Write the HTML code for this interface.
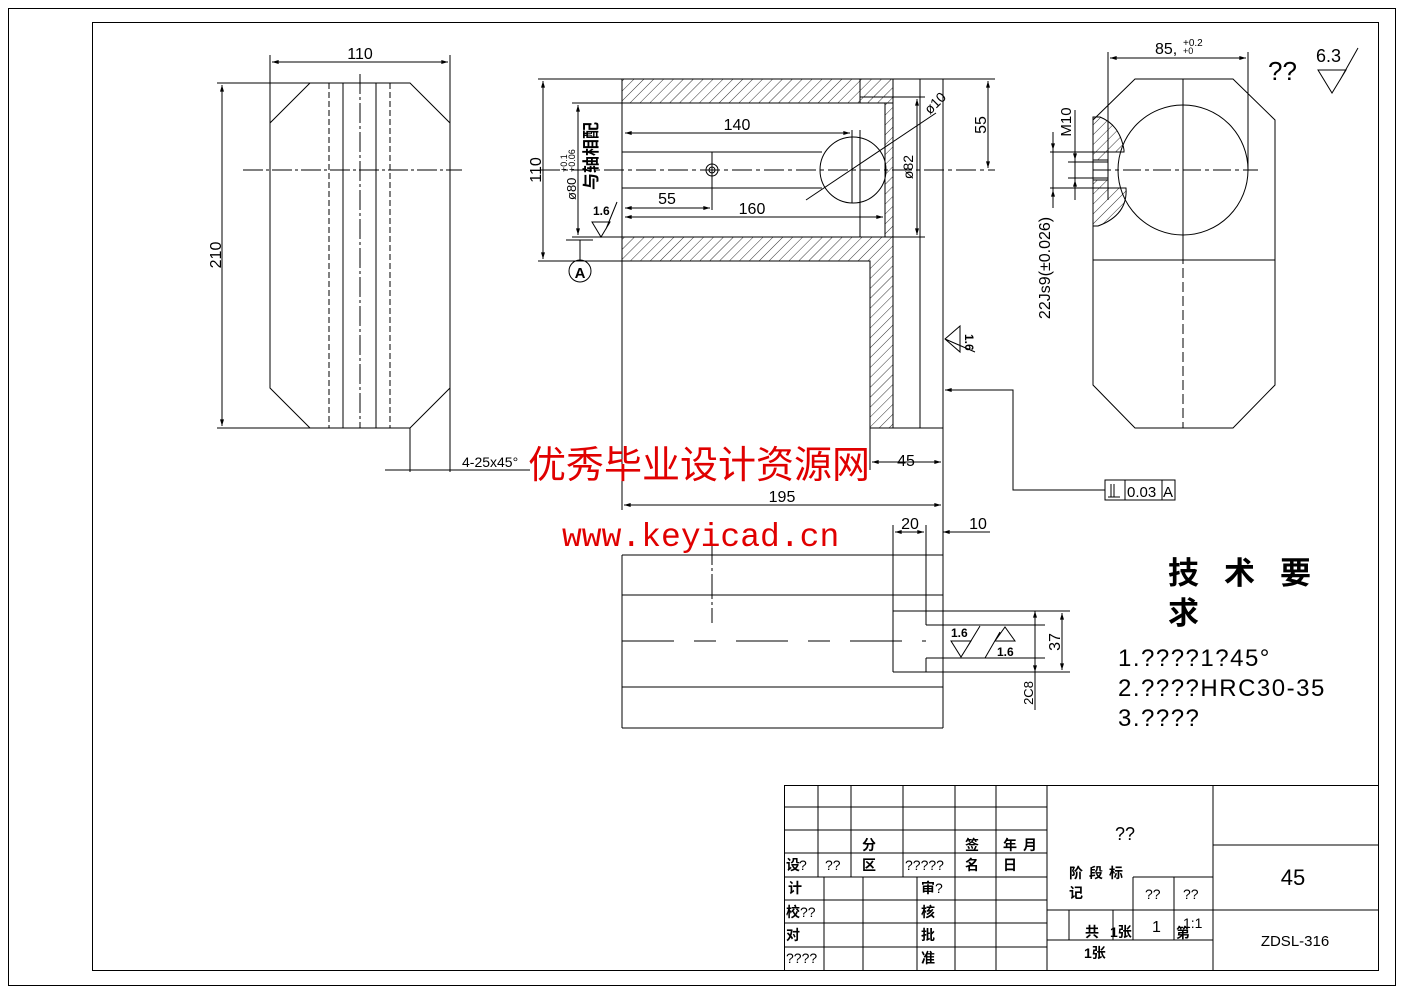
<!DOCTYPE html>
<html><head><meta charset="utf-8"><style>
html,body{margin:0;padding:0;background:#fff;}
svg{display:block;}
text{font-family:"Liberation Sans","Noto Sans CJK SC",sans-serif;fill:#000;}
.cn{font-family:"Liberation Sans","Noto Sans CJK SC",sans-serif;font-weight:bold;}
</style></head><body>
<svg width="1403" height="992" viewBox="0 0 1403 992" xmlns="http://www.w3.org/2000/svg">
<defs>
<pattern id="h" width="7" height="7" patternUnits="userSpaceOnUse" patternTransform="rotate(45)">
<line x1="0" y1="0" x2="0" y2="7" stroke="#000" stroke-width="0.8"/>
</pattern>
<marker id="a" viewBox="0 0 10 6" refX="10" refY="3" markerWidth="8" markerHeight="4" orient="auto-start-reverse"><path d="M0,0L10,3L0,6z" fill="#000"/></marker>
</defs>
<g fill="none" stroke="#000" stroke-width="1">
<rect x="8.5" y="8.5" width="1387" height="977"/>
<rect x="92.5" y="22.5" width="1286" height="948"/>

<!-- LEFT VIEW -->
<path d="M310,83 L410,83 L450,123 L450,388 L410,428 L310,428 L270,388 L270,123 Z"/>
<line x1="343" y1="83" x2="343" y2="428"/>
<line x1="376" y1="83" x2="376" y2="428"/>
<line x1="329" y1="83" x2="329" y2="428" stroke-dasharray="6,3"/>
<line x1="390" y1="83" x2="390" y2="428" stroke-dasharray="6,3"/>
<line x1="360" y1="74" x2="360" y2="428" stroke-dasharray="20,3,3,3"/>
<line x1="243" y1="170" x2="462" y2="170" stroke-dasharray="20,3,3,3"/>
<line x1="270" y1="55" x2="270" y2="123"/><line x1="450" y1="55" x2="450" y2="472"/>
<line x1="272" y1="62" x2="448" y2="62" marker-start="url(#a)" marker-end="url(#a)"/>
<line x1="217" y1="83" x2="310" y2="83"/><line x1="217" y1="428" x2="410" y2="428"/>
<line x1="222" y1="85" x2="222" y2="426" marker-start="url(#a)" marker-end="url(#a)"/>
<line x1="410" y1="428" x2="410" y2="472"/>
<line x1="385" y1="470" x2="530" y2="470"/>

<!-- MIDDLE TOP VIEW -->
<rect x="622" y="79" width="271" height="24" fill="url(#h)"/>
<path d="M622,237 L893,237 L893,428 L870,428 L870,261 L622,261 Z" fill="url(#h)"/>
<rect x="885" y="103" width="8" height="134" fill="url(#h)"/>
<line x1="538" y1="79" x2="995" y2="79"/>
<line x1="622" y1="79" x2="622" y2="510"/>
<line x1="622" y1="103" x2="860" y2="103"/>
<line x1="860" y1="79" x2="860" y2="103"/>
<line x1="860" y1="97" x2="893" y2="97"/>
<line x1="860" y1="130" x2="860" y2="237"/>
<line x1="893" y1="79" x2="893" y2="428"/>
<line x1="920" y1="79" x2="920" y2="428"/>
<line x1="943" y1="79" x2="943" y2="510"/>
<line x1="870" y1="428" x2="943" y2="428"/>
<line x1="870" y1="428" x2="870" y2="470"/>
<line x1="538" y1="261" x2="622" y2="261"/>
<line x1="572" y1="103" x2="622" y2="103"/><line x1="572" y1="237" x2="622" y2="237"/>
<line x1="622" y1="152" x2="822" y2="152"/>
<line x1="622" y1="188" x2="822" y2="188"/>
<line x1="540" y1="170" x2="995" y2="170" stroke-dasharray="20,4,4,4"/>
<circle cx="712" cy="170" r="6"/><circle cx="712" cy="170" r="3"/>
<line x1="712" y1="152" x2="712" y2="210"/>
<circle cx="853" cy="170" r="33"/>
<line x1="852" y1="130" x2="852" y2="203"/>
<line x1="543" y1="81" x2="543" y2="259" marker-start="url(#a)" marker-end="url(#a)"/>
<line x1="578" y1="105" x2="578" y2="235" marker-start="url(#a)" marker-end="url(#a)"/>
<line x1="625" y1="133" x2="850" y2="133" marker-start="url(#a)" marker-end="url(#a)"/>
<line x1="625" y1="208" x2="710" y2="208" marker-start="url(#a)" marker-end="url(#a)"/>
<line x1="625" y1="217" x2="883" y2="217" marker-start="url(#a)" marker-end="url(#a)"/>
<line x1="893" y1="97" x2="925" y2="97"/><line x1="893" y1="237" x2="925" y2="237"/>
<line x1="917" y1="99" x2="917" y2="235" marker-start="url(#a)" marker-end="url(#a)"/>
<line x1="806" y1="200" x2="936" y2="113"/>
<line x1="988" y1="81" x2="988" y2="168" marker-start="url(#a)" marker-end="url(#a)"/>
<!-- datum A -->
<line x1="566" y1="240" x2="593" y2="240"/><line x1="580" y1="240" x2="580" y2="260"/>
<circle cx="580" cy="271" r="11"/>
<!-- roughness -->
<path d="M592,222 L610,222 L601,237 Z M606,229 L617,202"/>
<path d="M960,326 L945,339 L960,352 Z M945,339 L975,352"/>
<!-- dims 45/195 -->
<line x1="872" y1="462" x2="941" y2="462" marker-start="url(#a)" marker-end="url(#a)"/>
<line x1="624" y1="505" x2="941" y2="505" marker-start="url(#a)" marker-end="url(#a)"/>
<!-- tolerance leader -->
<path d="M945,390 L1013,390 L1013,490 L1105,490"/>
<line x1="945" y1="390" x2="952" y2="390" marker-start="url(#a)"/>
<rect x="1105" y="480" width="70" height="20"/>
<line x1="1125" y1="480" x2="1125" y2="500"/><line x1="1162" y1="480" x2="1162" y2="500"/>
<line x1="1111" y1="484" x2="1111" y2="497"/><line x1="1114" y1="484" x2="1114" y2="497"/><line x1="1108" y1="497" x2="1120" y2="497"/>

<!-- BOTTOM VIEW -->
<line x1="622" y1="555" x2="943" y2="555"/>
<line x1="622" y1="595" x2="943" y2="595"/>
<line x1="622" y1="687" x2="943" y2="687"/>
<line x1="622" y1="728" x2="943" y2="728"/>
<line x1="622" y1="555" x2="622" y2="728"/>
<line x1="943" y1="510" x2="943" y2="728"/>
<line x1="622" y1="641" x2="926" y2="641" stroke-dasharray="52,20,22,20"/>
<line x1="712" y1="540" x2="712" y2="623" stroke-dasharray="25,3,3,3"/>
<line x1="893" y1="525" x2="893" y2="672"/>
<line x1="926" y1="525" x2="926" y2="625"/><line x1="926" y1="658" x2="926" y2="672"/>
<line x1="893" y1="611" x2="1070" y2="611"/><line x1="926" y1="625" x2="1045" y2="625"/>
<line x1="926" y1="658" x2="1045" y2="658"/><line x1="893" y1="672" x2="1070" y2="672"/>
<line x1="895" y1="532" x2="924" y2="532" marker-start="url(#a)" marker-end="url(#a)"/>
<line x1="943" y1="532" x2="990" y2="532" marker-start="url(#a)"/>
<line x1="1062" y1="613" x2="1062" y2="670" marker-start="url(#a)" marker-end="url(#a)"/>
<line x1="1035" y1="613" x2="1035" y2="710" />
<line x1="1035" y1="611" x2="1035" y2="622" marker-start="url(#a)"/>
<line x1="1035" y1="660" x2="1035" y2="672" marker-end="url(#a)"/>
<path d="M951,641 L971,641 L961,657 Z M966,649 L980,626"/>
<path d="M995,641 L1015,641 L1005,627 Z M985,658 L1000,632"/>

<!-- RIGHT VIEW -->
<path d="M1135,79 L1233,79 L1275,120 L1275,385 L1233,428 L1135,428 L1093,385 L1093,120 Z"/>
<line x1="1093" y1="260" x2="1275" y2="260"/>
<line x1="1183" y1="79" x2="1183" y2="260"/>
<line x1="1183" y1="170" x2="1183" y2="428" stroke-dasharray="10,4"/>
<circle cx="1183" cy="170" r="65"/>
<line x1="1093" y1="170" x2="1258" y2="170" stroke-dasharray="18,4,4,4"/>
<path d="M1093,117 L1100,117 Q1120,125 1124,150 L1124,152 L1108,152 L1108,160 L1093,160 Z" fill="url(#h)"/>
<path d="M1093,180 L1108,180 L1108,188 L1126,188 Q1128,215 1098,226 L1093,226 Z" fill="url(#h)"/>
<line x1="1093" y1="160" x2="1108" y2="160"/><line x1="1093" y1="180" x2="1108" y2="180"/>
<line x1="1093" y1="160" x2="1093" y2="180"/><line x1="1108" y1="160" x2="1108" y2="180"/>
<line x1="1108" y1="52" x2="1108" y2="200"/><line x1="1248" y1="52" x2="1248" y2="170"/>
<line x1="1110" y1="58" x2="1246" y2="58" marker-start="url(#a)" marker-end="url(#a)"/>
<line x1="1050" y1="152" x2="1124" y2="152"/><line x1="1050" y1="188" x2="1124" y2="188"/>
<line x1="1068" y1="162" x2="1108" y2="162"/><line x1="1068" y1="178" x2="1108" y2="178"/>
<line x1="1053" y1="132" x2="1053" y2="150" marker-end="url(#a)"/>
<line x1="1053" y1="208" x2="1053" y2="190" marker-end="url(#a)"/>
<line x1="1053" y1="150" x2="1053" y2="190"/>
<line x1="1075" y1="150" x2="1075" y2="160" marker-end="url(#a)"/>
<line x1="1075" y1="192" x2="1075" y2="180" marker-end="url(#a)"/>
<line x1="1075" y1="160" x2="1075" y2="180"/>
<line x1="1075" y1="110" x2="1075" y2="150"/><line x1="1075" y1="192" x2="1075" y2="200"/>
<path d="M1318,70 L1346,70 L1332,93 Z M1340,80 L1358,48"/>

<!-- TITLE BLOCK -->
<rect x="784.5" y="785.5" width="594" height="185"/>
<line x1="784" y1="807" x2="1047" y2="807"/>
<line x1="784" y1="830" x2="1047" y2="830"/>
<line x1="784" y1="853" x2="1047" y2="853"/>
<line x1="784" y1="877" x2="1047" y2="877"/>
<line x1="784" y1="900" x2="1047" y2="900"/>
<line x1="784" y1="923" x2="1047" y2="923"/>
<line x1="784" y1="947" x2="1047" y2="947"/>
<line x1="818" y1="785" x2="818" y2="877"/>
<line x1="851" y1="785" x2="851" y2="877"/>
<line x1="903" y1="785" x2="903" y2="877"/>
<line x1="955" y1="785" x2="955" y2="970"/>
<line x1="996" y1="785" x2="996" y2="970"/>
<line x1="1047" y1="785" x2="1047" y2="970"/>
<line x1="824" y1="877" x2="824" y2="970"/>
<line x1="863" y1="877" x2="863" y2="970"/>
<line x1="917" y1="877" x2="917" y2="970"/>
<line x1="1213" y1="785" x2="1213" y2="970"/>
<line x1="1133" y1="877" x2="1213" y2="877"/>
<line x1="1047" y1="910" x2="1213" y2="910"/>
<line x1="1047" y1="940" x2="1213" y2="940"/>
<line x1="1133" y1="877" x2="1133" y2="940"/>
<line x1="1174" y1="877" x2="1174" y2="940"/>
<line x1="1069" y1="910" x2="1069" y2="940"/>
<line x1="1113" y1="910" x2="1113" y2="940"/>
<line x1="1213" y1="845" x2="1378" y2="845"/>
<line x1="1213" y1="910" x2="1378" y2="910"/>
</g>

<!-- TEXT -->
<g font-size="16">
<text x="360" y="59" text-anchor="middle">110</text>
<text transform="translate(221,255) rotate(-90)" text-anchor="middle">210</text>
<text x="462" y="467" font-size="14">4-25x45°</text>
<text x="737" y="130" text-anchor="middle">140</text>
<text x="667" y="204" text-anchor="middle">55</text>
<text x="752" y="214" text-anchor="middle">160</text>
<text transform="translate(541,170) rotate(-90)" text-anchor="middle">110</text>
<text transform="translate(986,125) rotate(-90)" text-anchor="middle">55</text>
<text transform="translate(913,167) rotate(-90)" text-anchor="middle" font-size="14">ø82</text>
<text transform="translate(930,115) rotate(-45)" font-size="14">ø10</text>
<text transform="translate(576,200) rotate(-90)" font-size="13">ø80</text>
<text transform="translate(567,172) rotate(-90)" font-size="9">+0.1</text>
<text transform="translate(575,172) rotate(-90)" font-size="9">+0.06</text>
<text class="cn" transform="translate(597,190) rotate(-90)" font-size="17">与轴相配</text>
<text x="580" y="278" text-anchor="middle" font-size="15" font-weight="bold">A</text>
<text x="593" y="215" font-size="12" font-weight="bold">1.6</text>
<text transform="translate(965,334) rotate(90)" font-size="12" font-weight="bold">1.6</text>
<text x="906" y="466" text-anchor="middle">45</text>
<text x="782" y="502" text-anchor="middle">195</text>
<text x="1127" y="497" font-size="15">0.03</text>
<text x="1163" y="497" font-size="15">A</text>
<text x="910" y="529" text-anchor="middle">20</text>
<text x="978" y="529" text-anchor="middle">10</text>
<text transform="translate(1060,642) rotate(-90)" text-anchor="middle">37</text>
<text transform="translate(1033,693) rotate(-90)" text-anchor="middle" font-size="13">2C8</text>
<text x="951" y="637" font-size="12" font-weight="bold">1.6</text>
<text x="997" y="656" font-size="12" font-weight="bold">1.6</text>
<text x="1155" y="54">85,</text>
<text x="1183" y="46" font-size="10">+0.2</text>
<text x="1183" y="54" font-size="9">+0</text>
<text transform="translate(1071,122) rotate(-90)" text-anchor="middle" font-size="15">M10</text>
<text transform="translate(1050,268) rotate(-90)" text-anchor="middle" font-size="16">22Js9(±0.026)</text>
<text x="1268" y="80" font-size="26">??</text>
<text x="1316" y="62" font-size="18">6.3</text>
<text class="cn" x="1168" y="584" font-size="31" letter-spacing="25">技术要</text>
<text class="cn" x="1168" y="624" font-size="31">求</text>
<text x="1118" y="666" font-size="24" letter-spacing="1.5">1.????1?45°</text>
<text x="1118" y="696" font-size="24" letter-spacing="1.5">2.????HRC30-35</text>
<text x="1118" y="726" font-size="24" letter-spacing="1.5">3.????</text>
</g>
<g font-size="14">
<text class="cn" x="862" y="850">分</text>
<text class="cn" x="965" y="850">签</text>
<text class="cn" x="1003" y="850" letter-spacing="6">年月</text>
<text class="cn" x="786" y="870">设</text><text x="799" y="870">?</text>
<text x="825" y="870">??</text>
<text class="cn" x="862" y="870">区</text>
<text x="905" y="870">?????</text>
<text class="cn" x="965" y="870">名</text>
<text class="cn" x="1003" y="870">日</text>
<text class="cn" x="788" y="893">计</text>
<text class="cn" x="921" y="893">审</text><text x="935" y="893">?</text>
<text class="cn" x="786" y="917">校</text><text x="800" y="917">??</text>
<text class="cn" x="921" y="917">核</text>
<text class="cn" x="786" y="940">对</text>
<text class="cn" x="921" y="940">批</text>
<text x="786" y="963">????</text>
<text class="cn" x="921" y="963">准</text>
<text x="1115" y="840" font-size="18">??</text>
<text class="cn" x="1069" y="878" letter-spacing="6">阶段标</text>
<text class="cn" x="1069" y="898">记</text>
<text x="1145" y="899">??</text>
<text x="1183" y="899">??</text>
<text class="cn" x="1085" y="937">共</text>
<text class="cn" x="1110" y="937">1张</text>
<text x="1152" y="932" font-size="16">1</text>
<text class="cn" x="1176" y="938">第</text><text x="1183" y="928">1:1</text>
<text class="cn" x="1084" y="958">1张</text>
<text x="1293" y="885" font-size="22" text-anchor="middle">45</text>
<text x="1295" y="946" font-size="15" text-anchor="middle">ZDSL-316</text>
</g>
<text x="528" y="478" font-size="38" style="fill:#e00000;font-family:'Noto Sans CJK SC',sans-serif">优秀毕业设计资源网</text>
<text x="562" y="546" font-size="33" style="fill:#e00000;font-family:'Liberation Mono',monospace">www.keyicad.cn</text>
</svg>
</body></html>
